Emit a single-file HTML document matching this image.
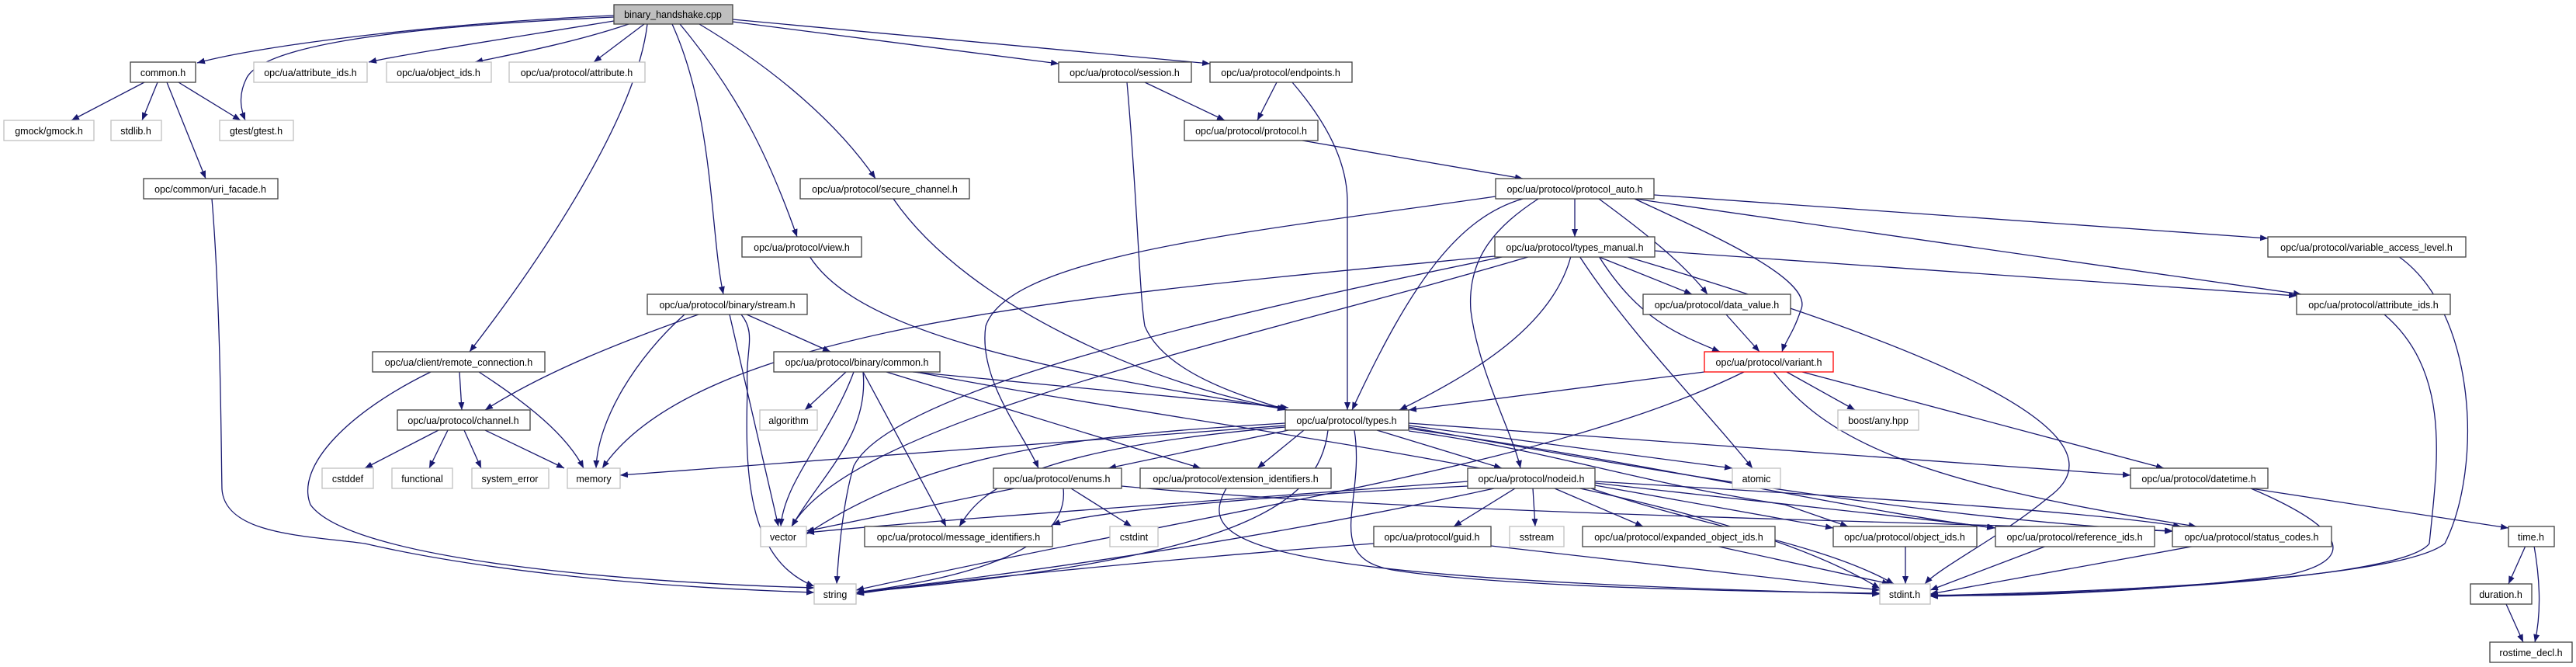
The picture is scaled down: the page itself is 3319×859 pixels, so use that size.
<!DOCTYPE html>
<html><head><meta charset="utf-8"><style>
html,body{margin:0;padding:0;background:#fff;}
svg{display:block;}
text{font-family:"Liberation Sans",sans-serif;font-size:12.5px;fill:#000;text-anchor:middle;}
.e{fill:none;stroke:#191970;stroke-width:1.3;marker-end:url(#a);}
.n{fill:#fff;stroke:#404040;stroke-width:1.3;}
.g{fill:#fff;stroke:#bfbfbf;stroke-width:1.3;}
</style></head><body>
<svg width="3319" height="859" viewBox="0 0 3319 859" xmlns="http://www.w3.org/2000/svg">
<defs><marker id="a" markerUnits="userSpaceOnUse" markerWidth="11" markerHeight="8" refX="10" refY="4" orient="auto"><path d="M0,0 L10,4 L0,8 z" fill="#191970"/></marker></defs>
<g>
<path class="e" d="M791,20 C600,28 350,55 254,81"/>
<path class="e" d="M791,22 C500,35 340,60 318,100 C305,125 312,145 316,155"/>
<path class="e" d="M791,27 C650,50 520,70 475,80"/>
<path class="e" d="M810,31 C740,55 650,72 612,80"/>
<path class="e" d="M830,31 L765,80"/>
<path class="e" d="M834,31 C820,150 700,330 605,453"/>
<path class="e" d="M866,31 C920,150 915,300 932,379"/>
<path class="e" d="M876,31 C950,120 990,200 1027,305"/>
<path class="e" d="M901,31 C1000,90 1080,160 1128,230"/>
<path class="e" d="M944,28 L1364,82"/>
<path class="e" d="M944,25 L1559,82"/>
<path class="e" d="M186,106 L92,155"/>
<path class="e" d="M203,106 L183,155"/>
<path class="e" d="M230,106 L310,155"/>
<path class="e" d="M215,106 L265,230"/>
<path class="e" d="M273,256 C285,400 285,600 286,630 C290,690 400,690 470,700 C600,730 800,755 1049,763"/>
<path class="e" d="M592,479 L595,528"/>
<path class="e" d="M617,479 C680,520 730,560 752,603"/>
<path class="e" d="M555,479 C450,530 380,600 400,650 C450,720 800,750 1049,757"/>
<path class="e" d="M900,405 C800,440 700,480 625,528"/>
<path class="e" d="M882,405 C820,460 770,540 768,603"/>
<path class="e" d="M940,405 L1003,678"/>
<path class="e" d="M962,405 L1070,453"/>
<path class="e" d="M955,405 C975,430 960,450 963,500 C960,600 960,720 1049,755"/>
<path class="e" d="M1475,106 L1578,155"/>
<path class="e" d="M1452,106 C1465,250 1468,380 1475,420 C1500,480 1600,510 1658,528"/>
<path class="e" d="M1645,106 L1620,155"/>
<path class="e" d="M1665,106 C1720,170 1736,220 1736,260 L1736,528"/>
<path class="e" d="M1678,181 L1962,230"/>
<path class="e" d="M1151,256 C1250,400 1500,500 1656,527"/>
<path class="e" d="M1043,330 C1100,420 1300,470 1656,527"/>
<path class="e" d="M2029,256 L2029,305"/>
<path class="e" d="M2131,251 L2922,307"/>
<path class="e" d="M2106,256 L2965,379"/>
<path class="e" d="M2060,256 C2120,300 2170,340 2200,379"/>
<path class="e" d="M2106,256 C2200,300 2340,360 2320,400 C2310,430 2300,440 2296,453"/>
<path class="e" d="M1962,256 C1880,280 1820,360 1742,528"/>
<path class="e" d="M1982,256 C1930,290 1890,330 1895,400 C1905,480 1950,560 1959,603"/>
<path class="e" d="M1927,253 C1600,300 1300,330 1270,420 C1260,490 1320,560 1338,603"/>
<path class="e" d="M1926,330 C1400,380 900,420 776,603"/>
<path class="e" d="M1972,330 C1600,440 1100,540 1020,678"/>
<path class="e" d="M1940,330 C1600,400 1150,500 1100,600 C1085,650 1080,720 1078,752"/>
<path class="e" d="M2058,330 L2180,379"/>
<path class="e" d="M2132,323 L2959,381"/>
<path class="e" d="M2060,330 C2110,410 2160,430 2216,453"/>
<path class="e" d="M2094,330 C2500,450 2750,560 2640,640 C2580,690 2500,730 2480,752"/>
<path class="e" d="M2035,330 C2100,430 2200,530 2258,603"/>
<path class="e" d="M2024,330 C2000,420 1900,480 1803,528"/>
<path class="e" d="M2224,405 L2267,453"/>
<path class="e" d="M2196,479 L1815,528"/>
<path class="e" d="M2247,479 C2000,600 1600,650 1103,760"/>
<path class="e" d="M2302,479 L2390,528"/>
<path class="e" d="M2322,479 L2788,603"/>
<path class="e" d="M2285,479 C2350,560 2450,620 2830,678"/>
<path class="e" d="M1656,548 L799,612"/>
<path class="e" d="M1656,545 C1400,560 1200,580 1039,688"/>
<path class="e" d="M1711,554 C1700,650 1600,720 1103,763"/>
<path class="e" d="M1660,554 L1428,603"/>
<path class="e" d="M1680,554 L1620,603"/>
<path class="e" d="M1656,550 C1300,580 1260,640 1236,678"/>
<path class="e" d="M1774,554 L1935,603"/>
<path class="e" d="M1815,548 L2232,603"/>
<path class="e" d="M1815,545 L2745,612"/>
<path class="e" d="M1815,555 C2000,580 2100,620 2300,650 L2381,678"/>
<path class="e" d="M1815,552 C2150,600 2400,660 2570,680"/>
<path class="e" d="M1815,550 C2150,610 2500,670 2799,684"/>
<path class="e" d="M1745,554 C1760,650 1700,720 1800,735 C1900,750 2100,760 2422,764"/>
<path class="e" d="M1307,629 L1039,684"/>
<path class="e" d="M1380,629 L1458,678"/>
<path class="e" d="M1370,629 C1380,720 1200,750 1103,763"/>
<path class="e" d="M1445,626 C1800,660 2400,670 2800,684"/>
<path class="e" d="M1580,629 C1540,700 1600,745 2422,765"/>
<path class="e" d="M1891,620 C1500,650 1200,670 1039,686"/>
<path class="e" d="M1891,626 C1600,640 1400,660 1356,676"/>
<path class="e" d="M1952,629 L1873,678"/>
<path class="e" d="M1975,629 L1978,678"/>
<path class="e" d="M2003,629 L2117,678"/>
<path class="e" d="M2055,625 L2362,680"/>
<path class="e" d="M2055,622 C2300,650 2500,670 2571,680"/>
<path class="e" d="M2055,620 C2400,640 2700,660 2810,678"/>
<path class="e" d="M2050,629 C2200,680 2350,700 2440,752"/>
<path class="e" d="M1925,629 C1600,700 1300,740 1103,763"/>
<path class="e" d="M1090,479 L1037,528"/>
<path class="e" d="M1100,479 C1070,560 1010,620 1006,678"/>
<path class="e" d="M1112,479 C1120,560 1060,610 1020,678"/>
<path class="e" d="M1112,479 L1219,678"/>
<path class="e" d="M1176,479 L1660,525"/>
<path class="e" d="M1142,479 L1547,603"/>
<path class="e" d="M1180,479 C1600,560 2200,620 2422,758"/>
<path class="e" d="M1770,700 C1500,720 1200,750 1103,765"/>
<path class="e" d="M1921,703 L2422,760"/>
<path class="e" d="M2210,703 L2435,752"/>
<path class="e" d="M2455,703 L2455,752"/>
<path class="e" d="M2637,703 L2487,760"/>
<path class="e" d="M2829,703 L2487,765"/>
<path class="e" d="M2900,629 C3020,680 3040,720 2950,740 C2800,760 2600,770 2487,766"/>
<path class="e" d="M2900,629 L3232,680"/>
<path class="e" d="M3090,330 C3190,400 3200,600 3150,700 C3100,740 2800,760 2487,767"/>
<path class="e" d="M3072,405 C3160,480 3140,600 3130,700 C3100,740 2800,762 2487,768"/>
<path class="e" d="M3254,703 L3232,752"/>
<path class="e" d="M3265,703 C3275,760 3272,800 3266,827"/>
<path class="e" d="M3229,778 L3251,827"/>
<path class="e" d="M565,554 L470,603"/>
<path class="e" d="M577,554 L553,603"/>
<path class="e" d="M598,554 L620,603"/>
<path class="e" d="M625,554 L727,603"/>
</g>
<g>
<rect x="791" y="6" width="153" height="25" fill="#bfbfbf" stroke="#404040" stroke-width="1.3"/><text x="867" y="23">binary_handshake.cpp</text>
<rect class="n" x="168" y="80" width="84" height="26"/><text x="210" y="98">common.h</text>
<rect class="g" x="327" y="80" width="146" height="26"/><text x="400" y="98">opc/ua/attribute_ids.h</text>
<rect class="g" x="498" y="80" width="135" height="26"/><text x="565" y="98">opc/ua/object_ids.h</text>
<rect class="g" x="656" y="80" width="175" height="26"/><text x="743" y="98">opc/ua/protocol/attribute.h</text>
<rect class="n" x="1364" y="80" width="171" height="26"/><text x="1449" y="98">opc/ua/protocol/session.h</text>
<rect class="n" x="1559" y="80" width="183" height="26"/><text x="1650" y="98">opc/ua/protocol/endpoints.h</text>
<rect class="g" x="5" y="155" width="116" height="26"/><text x="63" y="173">gmock/gmock.h</text>
<rect class="g" x="143" y="155" width="65" height="26"/><text x="175" y="173">stdlib.h</text>
<rect class="g" x="283" y="155" width="95" height="26"/><text x="330" y="173">gtest/gtest.h</text>
<rect class="n" x="1526" y="155" width="172" height="26"/><text x="1612" y="173">opc/ua/protocol/protocol.h</text>
<rect class="n" x="185" y="230" width="173" height="26"/><text x="271" y="248">opc/common/uri_facade.h</text>
<rect class="n" x="1031" y="230" width="218" height="26"/><text x="1140" y="248">opc/ua/protocol/secure_channel.h</text>
<rect class="n" x="1927" y="230" width="204" height="26"/><text x="2029" y="248">opc/ua/protocol/protocol_auto.h</text>
<rect class="n" x="956" y="305" width="154" height="26"/><text x="1033" y="323">opc/ua/protocol/view.h</text>
<rect class="n" x="1926" y="305" width="206" height="26"/><text x="2029" y="323">opc/ua/protocol/types_manual.h</text>
<rect class="n" x="2922" y="305" width="255" height="26"/><text x="3049" y="323">opc/ua/protocol/variable_access_level.h</text>
<rect class="n" x="834" y="379" width="206" height="26"/><text x="937" y="397">opc/ua/protocol/binary/stream.h</text>
<rect class="n" x="2117" y="379" width="190" height="26"/><text x="2212" y="397">opc/ua/protocol/data_value.h</text>
<rect class="n" x="2959" y="379" width="198" height="26"/><text x="3058" y="397">opc/ua/protocol/attribute_ids.h</text>
<rect class="n" x="480" y="453" width="222" height="26"/><text x="591" y="471">opc/ua/client/remote_connection.h</text>
<rect class="n" x="997" y="453" width="214" height="26"/><text x="1104" y="471">opc/ua/protocol/binary/common.h</text>
<rect x="2196" y="453" width="166" height="26" fill="#fff" stroke="#ff0000" stroke-width="1.3"/><text x="2279" y="471">opc/ua/protocol/variant.h</text>
<rect class="n" x="512" y="528" width="171" height="26"/><text x="597" y="546">opc/ua/protocol/channel.h</text>
<rect class="g" x="979" y="528" width="74" height="26"/><text x="1016" y="546">algorithm</text>
<rect class="n" x="1656" y="528" width="159" height="26"/><text x="1735" y="546">opc/ua/protocol/types.h</text>
<rect class="g" x="2368" y="528" width="104" height="26"/><text x="2420" y="546">boost/any.hpp</text>
<rect class="g" x="415" y="603" width="66" height="26"/><text x="448" y="621">cstddef</text>
<rect class="g" x="505" y="603" width="78" height="26"/><text x="544" y="621">functional</text>
<rect class="g" x="608" y="603" width="99" height="26"/><text x="657" y="621">system_error</text>
<rect class="g" x="731" y="603" width="68" height="26"/><text x="765" y="621">memory</text>
<rect class="n" x="1280" y="603" width="165" height="26"/><text x="1362" y="621">opc/ua/protocol/enums.h</text>
<rect class="n" x="1469" y="603" width="246" height="26"/><text x="1592" y="621">opc/ua/protocol/extension_identifiers.h</text>
<rect class="n" x="1891" y="603" width="164" height="26"/><text x="1973" y="621">opc/ua/protocol/nodeid.h</text>
<rect class="g" x="2232" y="603" width="62" height="26"/><text x="2263" y="621">atomic</text>
<rect class="n" x="2745" y="603" width="177" height="26"/><text x="2833" y="621">opc/ua/protocol/datetime.h</text>
<rect class="g" x="980" y="678" width="59" height="26"/><text x="1009" y="696">vector</text>
<rect class="n" x="1114" y="678" width="242" height="26"/><text x="1235" y="696">opc/ua/protocol/message_identifiers.h</text>
<rect class="g" x="1430" y="678" width="62" height="26"/><text x="1461" y="696">cstdint</text>
<rect class="n" x="1770" y="678" width="151" height="26"/><text x="1845" y="696">opc/ua/protocol/guid.h</text>
<rect class="g" x="1945" y="678" width="70" height="26"/><text x="1980" y="696">sstream</text>
<rect class="n" x="2039" y="678" width="248" height="26"/><text x="2163" y="696">opc/ua/protocol/expanded_object_ids.h</text>
<rect class="n" x="2362" y="678" width="185" height="26"/><text x="2454" y="696">opc/ua/protocol/object_ids.h</text>
<rect class="n" x="2571" y="678" width="205" height="26"/><text x="2673" y="696">opc/ua/protocol/reference_ids.h</text>
<rect class="n" x="2799" y="678" width="205" height="26"/><text x="2901" y="696">opc/ua/protocol/status_codes.h</text>
<rect class="n" x="3232" y="678" width="59" height="26"/><text x="3261" y="696">time.h</text>
<rect class="g" x="1049" y="752" width="54" height="26"/><text x="1076" y="770">string</text>
<rect class="g" x="2422" y="752" width="65" height="26"/><text x="2454" y="770">stdint.h</text>
<rect class="n" x="3183" y="752" width="79" height="26"/><text x="3222" y="770">duration.h</text>
<rect class="n" x="3208" y="827" width="106" height="26"/><text x="3261" y="845">rostime_decl.h</text>
</g>
</svg>
</body></html>
